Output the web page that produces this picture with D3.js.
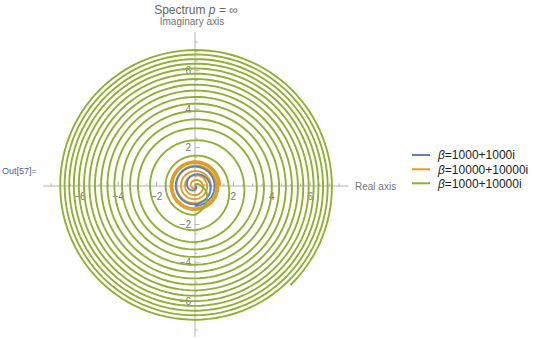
<!DOCTYPE html>
<html>
<head>
<meta charset="utf-8">
<script src="https://cdn.jsdelivr.net/npm/d3@7"></script>
<style>
  body { margin: 0; background: #fff; }
  svg { font-family: "Liberation Sans", Arial, sans-serif; }
</style>
</head>
<body>
<div id="chart"></div>
<script>
// legend labels and colours
var labels = ["1000+1000i", "10000+10000i", "1000+10000i"];
var colors = ["#5E81B5", "#E19C24", "#8FB032"];

// radius of each curve read at every quarter turn (clockwise), starting angle in degrees
var blueStart = 0;
var blueRadii = [0.0, 0.20, 0.40, 0.60, 0.80, 0.95, 1.00, 1.01, 1.02, 1.03];

var orangeStart = 0;
var orangeRadii = [0.0, 0.10, 0.21, 0.31, 0.42, 0.47, 0.52, 0.57, 0.63, 0.68, 0.73, 0.78,
                   0.83, 0.89, 0.96, 1.07, 1.12, 1.15, 1.17, 1.20, 1.22, 1.25, 1.27, 1.29, 1.31];

var greenStart = 90;
var greenRadii = [0.0, 0.30, 1.50, 1.53, 1.58, 1.75, 2.30, 2.34, 2.38, 2.56, 2.92, 2.97, 3.00,
                  3.22, 3.30, 3.38, 3.47, 3.59, 3.69, 3.80, 3.90, 4.00, 4.10, 4.20, 4.29,
                  4.38, 4.47, 4.56, 4.64, 4.73, 4.81, 4.89, 4.97, 5.05, 5.13, 5.21, 5.28,
                  5.36, 5.43, 5.50, 5.57, 5.64, 5.71, 5.78, 5.85, 5.92, 5.99, 6.05, 6.12,
                  6.18, 6.24, 6.31, 6.37, 6.43, 6.49, 6.55, 6.61, 6.67, 6.73, 6.79, 6.85,
                  6.91, 6.96, 7.02, 7.08, 7.13];
// green curve stops here (angle in degrees past the last quarter point, radius)
var greenEndAngle = -46;
var greenEndRadius = 7.16;

var majorTicks = [-6, -4, -2, 2, 4, 6];

var width = 540, height = 340;

var svg = d3.select("#chart").append("svg")
    .attr("width", width)
    .attr("height", height);

var x = d3.scaleLinear().domain([-7.9, 8.0]).range([43.3, 348.6]);
var y = d3.scaleLinear().domain([-7.86, 8.02]).range([337, 32]);

var minorTicks = d3.range(-7.5, 8.01, 0.5).filter(function(v) { return v % 2 !== 0; });

var axisColor = "#b3b3b3";
var labelColor = "#737373";

// axes
var ax = svg.append("g");
ax.append("line")
    .attr("x1", x(-7.9)).attr("x2", x(8.0))
    .attr("y1", y(0)).attr("y2", y(0))
    .attr("stroke", axisColor);
ax.append("line")
    .attr("x1", x(0)).attr("x2", x(0))
    .attr("y1", y(8.02)).attr("y2", y(-7.86))
    .attr("stroke", axisColor);

ax.selectAll(".xminor").data(minorTicks).enter().append("line")
    .attr("x1", function(d) { return x(d); }).attr("x2", function(d) { return x(d); })
    .attr("y1", y(0)).attr("y2", y(0) - 2.5)
    .attr("stroke", axisColor);
ax.selectAll(".xmajor").data(majorTicks).enter().append("line")
    .attr("x1", function(d) { return x(d); }).attr("x2", function(d) { return x(d); })
    .attr("y1", y(0)).attr("y2", y(0) - 4.5)
    .attr("stroke", axisColor);
ax.selectAll(".yminor").data(minorTicks).enter().append("line")
    .attr("y1", function(d) { return y(d); }).attr("y2", function(d) { return y(d); })
    .attr("x1", x(0)).attr("x2", x(0) + 2.5)
    .attr("stroke", axisColor);
ax.selectAll(".ymajor").data(majorTicks).enter().append("line")
    .attr("y1", function(d) { return y(d); }).attr("y2", function(d) { return y(d); })
    .attr("x1", x(0)).attr("x2", x(0) + 4.5)
    .attr("stroke", axisColor);

function fmt(v) { return v < 0 ? "\u2212" + (-v) : String(v); }

ax.selectAll(".xlab").data(majorTicks).enter().append("text")
    .attr("x", function(d) { return x(d); })
    .attr("y", y(0) + 13.5)
    .attr("text-anchor", "middle")
    .style("font-size", "10px")
    .attr("fill", labelColor)
    .text(fmt);
ax.selectAll(".ylab").data(majorTicks).enter().append("text")
    .attr("x", x(0) - 4)
    .attr("y", function(d) { return y(d) + 3.6; })
    .attr("text-anchor", "end")
    .style("font-size", "10px")
    .attr("fill", labelColor)
    .text(fmt);

// axis labels
svg.append("text")
    .attr("x", 355).attr("y", y(0) + 3.5)
    .style("font-size", "10px")
    .attr("fill", labelColor)
    .text("Real axis");
svg.append("text")
    .attr("x", x(0) - 3).attr("y", 25)
    .attr("text-anchor", "middle")
    .style("font-size", "10px")
    .attr("fill", labelColor)
    .text("Imaginary axis");

// title
var title = svg.append("text")
    .attr("x", x(0) + 1).attr("y", 14)
    .attr("text-anchor", "middle")
    .style("font-size", "12px")
    .attr("fill", "#666");
title.append("tspan").text("Spectrum ");
title.append("tspan").style("font-style", "italic").text("p");
title.append("tspan").text(" = \u221E");

// Out label
svg.append("text")
    .attr("x", 2).attr("y", 174)
    .style("font-size", "9px")
    .attr("fill", "#4F5B9B")
    .text("Out[57]=");

// spirals: radius runs through a linear scale over the angle
function spiral(start, radii, endAngle, endRadius) {
    var angles = radii.map(function(r, i) { return start - 90 * i; });
    var rs = radii.slice();
    if (endAngle !== undefined) {
        angles.push(angles[angles.length - 1] + endAngle);
        rs.push(endRadius);
    }
    var rOf = d3.scaleLinear().domain(angles).range(rs);
    var a0 = angles[0], a1 = angles[angles.length - 1];
    var steps = d3.range(a0, a1, -3).concat([a1]);
    return steps.map(function(a) {
        var t = a * Math.PI / 180, r = rOf(a);
        return [r * Math.cos(t), r * Math.sin(t)];
    });
}

var line = d3.line()
    .x(function(d) { return x(d[0]); })
    .y(function(d) { return y(d[1]); });

// orange first so the blue ring stays visible, green on top
var curves = [
    {pts: spiral(orangeStart, orangeRadii), c: colors[1]},
    {pts: spiral(blueStart, blueRadii), c: colors[0]},
    {pts: spiral(greenStart, greenRadii, greenEndAngle, greenEndRadius), c: colors[2]}
];

svg.append("g").selectAll("path").data(curves).enter().append("path")
    .attr("d", function(d) { return line(d.pts); })
    .attr("fill", "none")
    .attr("stroke", function(d) { return d.c; })
    .attr("stroke-width", 1.9);

// legend
var legend = svg.append("g");
var ly = [155, 169.3, 183.3];
labels.forEach(function(lab, i) {
    legend.append("line")
        .attr("x1", 412).attr("x2", 430)
        .attr("y1", ly[i]).attr("y2", ly[i])
        .attr("stroke", colors[i])
        .attr("stroke-width", 2);
    var t = legend.append("text")
        .attr("x", 438).attr("y", ly[i] + 4.3)
        .style("font-size", "12px")
        .attr("fill", "#222");
    t.append("tspan").style("font-style", "italic").text("\u03B2");
    t.append("tspan").text("=" + lab);
});
</script>
</body>
</html>
